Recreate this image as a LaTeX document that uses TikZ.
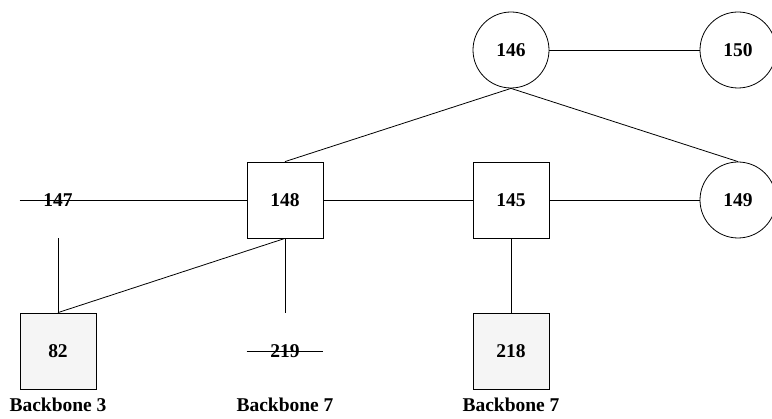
\documentclass[tikz,border=0pt]{standalone}
\usepackage{fontspec}
\setmainfont{Liberation Serif}
\begin{document}
\begin{tikzpicture}[x=1pt,y=-1pt,line width=0.8pt,
  every node/.style={font=\fontsize{19.5}{22}\selectfont\bfseries},
  router/.style={draw,circle,minimum size=76pt,inner sep=0pt},
  switchbox/.style={draw,rectangle,minimum size=76pt,inner sep=0pt},
  backbone/.style={switchbox,fill=black!4},
  ghost/.style={rectangle,minimum size=76pt,inner sep=0pt},
  caption/.style={inner sep=0pt}]
\useasboundingbox (0,0) rectangle (772,419);
% circular nodes
\node[router] (n146) at (511,50) {146};
\node[router] (n150) at (738,50) {150};
\node[router] (n149) at (738,200) {149};
% square nodes
\node[switchbox] (n148) at (285,200) {148};
\node[switchbox] (n145) at (511,200) {145};
\node[backbone] (n82) at (58,351) {82};
\node[backbone] (n218) at (511,351) {218};
% struck-out nodes
\node[ghost] (n147) at (58,200) {147};
\node[ghost] (n219) at (285,351) {219};
\draw (n147.west) -- (n148.west);
\draw (n219.west) -- (n219.east);
% connectors
\draw (n146) -- (n150);
\draw (n146.south) -- (n148.north);
\draw (n146.south) -- (n149.north);
\draw (n148) -- (n145);
\draw (n145) -- (n149);
\draw (n147.south) -- (n82.north);
\draw (n82.north) -- (n148.south);
\draw (n148.south) -- (n219.north);
\draw (n145) -- (n218);
% captions
\node[caption] (c82) at (58,405) {Backbone 3};
\node[caption] (c219) at (285,405) {Backbone 7};
\node[caption] (c218) at (511,405) {Backbone 7};
\end{tikzpicture}
\end{document}
